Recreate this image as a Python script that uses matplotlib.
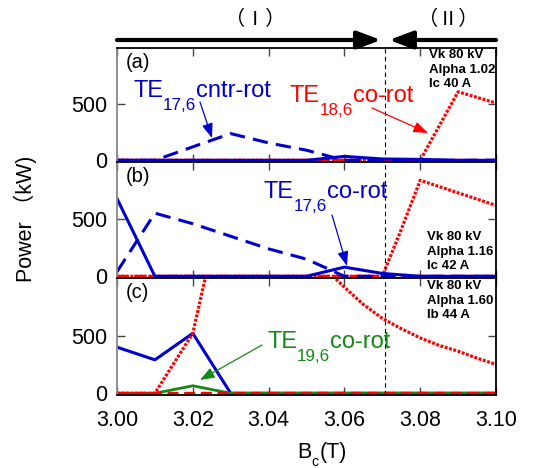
import matplotlib
matplotlib.use("Agg")
import matplotlib.pyplot as plt

plt.rcParams['font.family'] = ['Liberation Sans', 'Noto Sans CJK JP', 'DejaVu Sans']

# data
b_grid = [3.00, 3.01, 3.02, 3.03, 3.04, 3.05, 3.06, 3.07, 3.08, 3.09, 3.10]
zeros = [0] * len(b_grid)

# (a) Alpha 1.02
a_te176_cntr = [0, 0, 120, 238, 155, 90, 0, 0, 0, 0, 0]
a_te176_co = [0, 0, 0, 0, 0, 0, 35, 12, 8, 0, 0]
a_te186_co = [0, 0, 0, 0, 0, 0, 0, 0, 0, 610, 510]

# (b) Alpha 1.16
b_te176_cntr = [40, 552, 460, 350, 240, 150, 0, 0, 0, 0, 0]
b_te176_co = [680, 0, 0, 0, 0, 0, 80, 25, 0, 0, 0]
b_te186_x = [3.00, 3.07, 3.075, 3.08, 3.09, 3.10]
b_te186_co = [0, 0, 410, 840, 730, 620]

# (c) Alpha 1.60
c_te176_co = [400, 290, 520, 0, 0, 0, 0, 0, 0, 0, 0]
c_te196_co = [0, 0, 65, 0, 0, 0, 0, 0, 0, 0, 0]
c_te186_x = [3.00, 3.01, 3.02, 3.025, 3.03, 3.04, 3.05, 3.055, 3.06, 3.065,
             3.07, 3.075, 3.08, 3.085, 3.09, 3.095, 3.10]
c_te186_co = [0, 0, 520, 1250, 1800, 1700, 1300, 1080, 920, 770,
              650, 560, 480, 415, 365, 305, 250]

b_boundary = 3.0707
params = ["Vk 80 kV\nAlpha 1.02\nIc 40 A",
          "Vk 80 kV\nAlpha 1.16\nIc 42 A",
          "Vk 80 kV\nAlpha 1.60\nIb 44 A"]
panel_tags = ["(a)", "(b)", "(c)"]

BLUE = '#0000cc'
RED = '#ff0000'
GREEN = '#138a13'

W, H = 533, 468
fig = plt.figure(figsize=(W / 100, H / 100), dpi=100)


def fx(x):
    return x / W


def fy(y):
    return 1 - y / H


# axes boxes in pixels (top, bottom)
boxes = [(48, 162), (162, 278), (278, 395)]
axes = []
for top, bot in boxes:
    ax = fig.add_axes([fx(117), fy(bot), fx(496) - fx(117), (bot - top) / H])
    axes.append(ax)

dot = (0, (0.9, 0.5))
dash = (0, (5, 2.7))
zdash = (0, (3.3, 1.7))

ax = axes[0]
ax.plot(b_grid, zeros, color=RED, lw=2.4, ls=zdash)
ax.plot(b_grid, a_te186_co, color=RED, lw=2.3, ls=dot)
ax.plot(b_grid, a_te176_cntr, color=BLUE, lw=2.2, ls=dash)
ax.plot(b_grid, a_te176_co, color=BLUE, lw=2.2)

ax = axes[1]
ax.plot(b_grid, zeros, color=RED, lw=2.4, ls=zdash)
ax.plot(b_te186_x, b_te186_co, color=RED, lw=2.3, ls=dot)
ax.plot(b_grid, b_te176_cntr, color=BLUE, lw=2.2, ls=dash)
ax.plot(b_grid, b_te176_co, color=BLUE, lw=2.2)

ax = axes[2]
ax.plot(b_grid, c_te176_co, color=BLUE, lw=2.2)
ax.plot(b_grid, c_te196_co, color=GREEN, lw=2.0)
ax.plot(c_te186_x, c_te186_co, color=RED, lw=2.3, ls=dot)
ax.plot(b_grid, zeros, color=RED, lw=2.4, ls=zdash)

for i, ax in enumerate(axes):
    ax.set_xlim(3.00, 3.10)
    ax.set_ylim(-15, 1000)
    ax.set_yticks([0, 500])
    ax.set_xticks([3.00, 3.02, 3.04, 3.06, 3.08, 3.10])
    ax.axvline(b_boundary, color='k', lw=0.8, ls=(0, (4, 3)))
    ax.tick_params(direction='in', top=True, right=True, length=6, width=1,
                   labelsize=15.5, color='#444444')
    ax.tick_params(axis='y', pad=7)
    ax.tick_params(axis='x', pad=11)
    for s in ax.spines.values():
        s.set_linewidth(1.3)
    ax.spines['left'].set_color('#888888')
    if i < 2:
        ax.tick_params(labelbottom=False)
    else:
        ax.set_xticklabels(['3.00', '3.02', '3.04', '3.06', '3.08', '3.10'])
    ax.text(0.022, 0.96, panel_tags[i], transform=ax.transAxes, fontsize=14.5,
            va='top', ha='left')

# parameter boxes
param_pos = [(429, 49), (427, 231), (427, 280)]
for (px, py), s in zip(param_pos, params):
    fig.text(fx(px), fy(py), s, fontsize=9.5, fontweight='bold', va='top',
             ha='left', linespacing=1.3)


def te_label(x, y, sub, rest, color, size=17):
    t1 = fig.text(fx(x), fy(y), 'TE', color=color, fontsize=size, va='baseline')
    t2 = plt.annotate(sub, xy=(1, 0), xycoords=t1, xytext=(0, 3),
                      textcoords='offset points', color=color,
                      fontsize=size * 0.72, va='top', ha='left',
                      annotation_clip=False)
    plt.annotate(rest, xy=(1, 0), xycoords=(t2, t1), color=color,
                 fontsize=size, va='bottom', ha='left', annotation_clip=False)


te_label(133, 97, '17,6', 'cntr-rot', BLUE)
te_label(290, 102, '18,6', 'co-rot', RED)
te_label(264, 198, '17,6', 'co-rot', BLUE)
te_label(267, 348, '19,6', 'co-rot', GREEN)


def arrow(x0, y0, x1, y1, color, lw=0.9, scale=11):
    fig.add_artist(matplotlib.patches.FancyArrowPatch(
        (fx(x0), fy(y0)), (fx(x1), fy(y1)), transform=fig.transFigure,
        arrowstyle='-|>,head_length=0.8,head_width=0.3', mutation_scale=scale,
        color=color, lw=lw, shrinkA=0, shrinkB=0))


arrow(200, 102, 212, 138, BLUE)
arrow(372, 108, 428, 133, RED)
arrow(332, 215, 347, 266, BLUE)
arrow(262, 345, 200, 380, GREEN)

# region arrows on top
arrow(117, 40, 381, 40, 'k', lw=3, scale=18)
arrow(496, 40, 389, 40, 'k', lw=3, scale=18)
fig.text(fx(255), fy(20), '（Ⅰ）', fontsize=14.5, ha='center', va='center',
         family=['Noto Sans CJK JP'])
fig.text(fx(448), fy(20), '（Ⅱ）', fontsize=14.5, ha='center', va='center',
         family=['Noto Sans CJK JP'])

# axis labels
fig.text(fx(25), fy(219), 'Power （kW)', rotation=90, fontsize=15.5,
         ha='center', va='center')
fig.text(fx(297), fy(458), 'B', fontsize=15.5, va='baseline', ha='left')
fig.text(fx(311), fy(455), 'c', fontsize=10, va='top', ha='left')
fig.text(fx(320), fy(458), '(T)', fontsize=15.5, va='baseline', ha='left')

fig.savefig('out.png', dpi=100)
